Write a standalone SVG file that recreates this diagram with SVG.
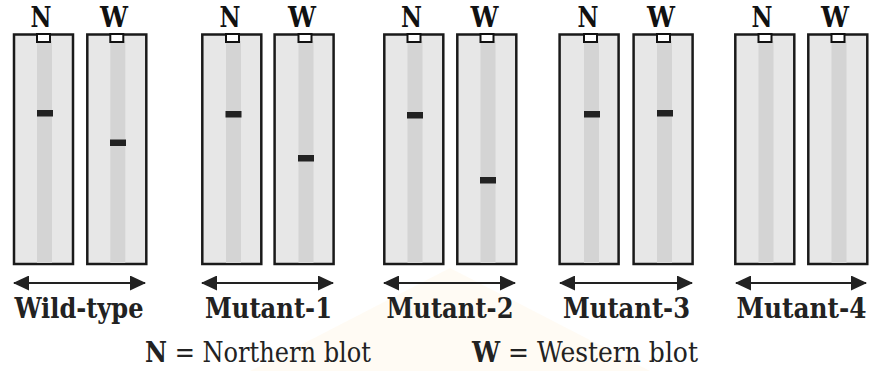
<svg xmlns="http://www.w3.org/2000/svg" width="870" height="371" viewBox="0 0 870 371">
<defs>
<style>
.lane{fill:#e7e7e7;stroke:#1a1a1a;stroke-width:2.5}
.stripe{fill:#d4d4d4}
.notch{fill:#ffffff;stroke:#111;stroke-width:2}
.band{fill:#222}
text{font-family:"DejaVu Serif Condensed","DejaVu Serif",serif}
.hdr{font-weight:bold;font-size:27.5px;fill:#111;text-anchor:middle}
.lbl{font-weight:bold;font-size:27.5px;fill:#222;text-anchor:middle}
.leg{font-size:27px;fill:#222}
.arr{stroke:#222;stroke-width:2;fill:none;marker-start:url(#ah);marker-end:url(#ah)}
</style>
<marker id="ah" viewBox="0 0 16 15" refX="15" refY="7.5" markerWidth="16" markerHeight="15" markerUnits="userSpaceOnUse" orient="auto-start-reverse">
<path d="M0,0 L16,7.5 L0,15 Z" fill="#222"/>
</marker>
</defs>
<rect width="870" height="371" fill="#ffffff"/>
<path d="M250,371 L450,268 L650,371 Z" fill="#fff8ec" opacity="0.6"/>

<g id="wildtype">
<g id="wt-n">
<rect class="lane" x="14" y="34.5" width="59" height="229.5"/>
<rect class="stripe" x="37" y="41" width="15" height="222"/>
<rect class="notch" x="37" y="34" width="13" height="8"/>
<rect class="band" x="37" y="110" width="16" height="6.5"/>
<text class="hdr" x="41" y="26.5" textLength="21" lengthAdjust="spacingAndGlyphs">N</text>
</g>
<g id="wt-w">
<rect class="lane" x="87.3" y="34.5" width="59" height="229.5"/>
<rect class="stripe" x="110.3" y="41" width="15" height="222"/>
<rect class="notch" x="110.3" y="34" width="13" height="8"/>
<rect class="band" x="110" y="139.5" width="16" height="6.5"/>
<text class="hdr" x="114" y="26.5" textLength="28" lengthAdjust="spacingAndGlyphs">W</text>
</g>
<text class="lbl" x="79" y="318" textLength="129" lengthAdjust="spacingAndGlyphs">Wild-type</text>
</g>

<g id="mutant1">
<g id="m1-n">
<rect class="lane" x="202.3" y="34.5" width="59" height="229.5"/>
<rect class="stripe" x="226" y="41" width="15" height="222"/>
<rect class="notch" x="226" y="34" width="13" height="8"/>
<rect class="band" x="225.5" y="111" width="16" height="6.5"/>
<text class="hdr" x="230" y="26.5" textLength="21" lengthAdjust="spacingAndGlyphs">N</text>
</g>
<g id="m1-w">
<rect class="lane" x="274.6" y="34.5" width="59" height="229.5"/>
<rect class="stripe" x="298.5" y="41" width="15" height="222"/>
<rect class="notch" x="298.5" y="34" width="13" height="8"/>
<rect class="band" x="298" y="155" width="16" height="6.5"/>
<text class="hdr" x="302" y="26.5" textLength="28" lengthAdjust="spacingAndGlyphs">W</text>
</g>
<text class="lbl" x="268.5" y="318" textLength="127" lengthAdjust="spacingAndGlyphs">Mutant-1</text>
</g>

<g id="mutant2">
<g id="m2-n">
<rect class="lane" x="384.3" y="34.5" width="59" height="229.5"/>
<rect class="stripe" x="407.5" y="41" width="15" height="222"/>
<rect class="notch" x="407.5" y="34" width="13" height="8"/>
<rect class="band" x="407" y="112" width="16" height="6.5"/>
<text class="hdr" x="411.5" y="26.5" textLength="21" lengthAdjust="spacingAndGlyphs">N</text>
</g>
<g id="m2-w">
<rect class="lane" x="457.3" y="34.5" width="59" height="229.5"/>
<rect class="stripe" x="480.5" y="41" width="15" height="222"/>
<rect class="notch" x="480.5" y="34" width="13" height="8"/>
<rect class="band" x="480" y="177" width="16" height="6.5"/>
<text class="hdr" x="484.5" y="26.5" textLength="28" lengthAdjust="spacingAndGlyphs">W</text>
</g>
<text class="lbl" x="450" y="318" textLength="127" lengthAdjust="spacingAndGlyphs">Mutant-2</text>
</g>

<g id="mutant3">
<g id="m3-n">
<rect class="lane" x="559.6" y="34.5" width="59" height="229.5"/>
<rect class="stripe" x="584" y="41" width="15" height="222"/>
<rect class="notch" x="584" y="34" width="13" height="8"/>
<rect class="band" x="584" y="111" width="16" height="6.5"/>
<text class="hdr" x="588" y="26.5" textLength="21" lengthAdjust="spacingAndGlyphs">N</text>
</g>
<g id="m3-w">
<rect class="lane" x="633.6" y="34.5" width="59" height="229.5"/>
<rect class="stripe" x="657" y="41" width="15" height="222"/>
<rect class="notch" x="657" y="34" width="13" height="8"/>
<rect class="band" x="657" y="110" width="16" height="6.5"/>
<text class="hdr" x="661" y="26.5" textLength="28" lengthAdjust="spacingAndGlyphs">W</text>
</g>
<text class="lbl" x="626.5" y="318" textLength="127" lengthAdjust="spacingAndGlyphs">Mutant-3</text>
</g>

<g id="mutant4">
<g id="m4-n">
<rect class="lane" x="735.3" y="34.5" width="59" height="229.5"/>
<rect class="stripe" x="758.5" y="41" width="15" height="222"/>
<rect class="notch" x="758.5" y="34" width="13" height="8"/>
<text class="hdr" x="762" y="26.5" textLength="21" lengthAdjust="spacingAndGlyphs">N</text>
</g>
<g id="m4-w">
<rect class="lane" x="808.3" y="34.5" width="59" height="229.5"/>
<rect class="stripe" x="831.5" y="41" width="15" height="222"/>
<rect class="notch" x="831.5" y="34" width="13" height="8"/>
<text class="hdr" x="835" y="26.5" textLength="28" lengthAdjust="spacingAndGlyphs">W</text>
</g>
<text class="lbl" x="801.5" y="318" textLength="130" lengthAdjust="spacingAndGlyphs">Mutant-4</text>
</g>

<g id="connectors">
<line class="arr" x1="14" y1="283" x2="145" y2="283"/>
<line class="arr" x1="202" y1="283" x2="333" y2="283"/>
<line class="arr" x1="384" y1="283" x2="515" y2="283"/>
<line class="arr" x1="560" y1="283" x2="692" y2="283"/>
<line class="arr" x1="736" y1="283" x2="866" y2="283"/>
</g>

<g id="legend">
<text class="leg" x="145" y="362" textLength="226" lengthAdjust="spacingAndGlyphs"><tspan font-weight="bold">N</tspan> = Northern blot</text>
<text class="leg" x="472" y="362" textLength="226" lengthAdjust="spacingAndGlyphs"><tspan font-weight="bold">W</tspan> = Western blot</text>
</g>
</svg>
